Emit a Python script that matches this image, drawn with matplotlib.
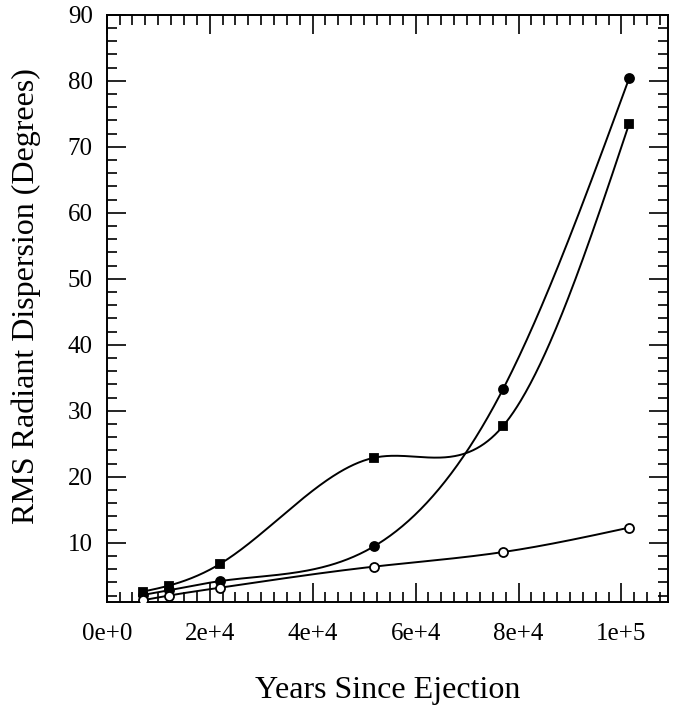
import matplotlib
matplotlib.use("Agg")
import matplotlib.pyplot as plt
import numpy as np
from matplotlib.ticker import MultipleLocator, FixedLocator, FixedFormatter

plt.rcParams['font.family'] = ['Liberation Serif', 'DejaVu Serif']

# years since ejection for each sample
years = [7000, 12000, 22000, 52000, 77000, 101500]

# rms radiant dispersion (degrees) for the three runs
disp_square = [2.6, 3.5, 6.8, 22.9, 27.7, 73.5]
disp_filled = [2.1, 2.8, 4.2, 9.5, 33.3, 80.4]
disp_open = [1.3, 2.0, 3.2, 6.4, 8.6, 12.3]

xtick_vals = [0, 20000, 40000, 60000, 80000, 100000]
xtick_labels = ['0e+0', '2e+4', '4e+4', '6e+4', '8e+4', '1e+5']


def natural_spline(x, y, n=400):
    """Natural cubic spline through (x, y), sampled on n points."""
    x = np.asarray(x, float)
    y = np.asarray(y, float)
    k = len(x)
    h = np.diff(x)
    A = np.zeros((k, k))
    b = np.zeros(k)
    A[0, 0] = A[-1, -1] = 1.0
    for i in range(1, k - 1):
        A[i, i-1] = h[i-1]
        A[i, i] = 2*(h[i-1] + h[i])
        A[i, i+1] = h[i]
        b[i] = 6*((y[i+1]-y[i])/h[i] - (y[i]-y[i-1])/h[i-1])
    M = np.linalg.solve(A, b)
    xs = np.linspace(x[0], x[-1], n)
    idx = np.clip(np.searchsorted(x, xs) - 1, 0, k - 2)
    x0, x1 = x[idx], x[idx+1]
    hh = x1 - x0
    t0, t1 = x1 - xs, xs - x0
    ys = (M[idx]*t0**3 + M[idx+1]*t1**3)/(6*hh) \
        + (y[idx]/hh - M[idx]*hh/6)*t0 + (y[idx+1]/hh - M[idx+1]*hh/6)*t1
    return xs, ys


fig = plt.figure(figsize=(6.8, 7.06), dpi=100)
ax = fig.add_axes([0.157, 0.147, 0.825, 0.832])

for ys, mk, fc, ms in [(disp_square, 's', 'black', 6.0),
                       (disp_filled, 'o', 'black', 6.5),
                       (disp_open, 'o', 'white', 6.5)]:
    sx, sy = natural_spline(years, ys)
    ax.plot(sx, sy, color='black', lw=1.4, zorder=2)
    ax.plot(years, ys, linestyle='none', marker=mk, ms=ms, mfc=fc,
            mec='black', mew=1.3, zorder=3)

ax.set_xlim(0, 109000)
ax.set_ylim(1, 90)

ax.xaxis.set_major_locator(FixedLocator(xtick_vals))
ax.xaxis.set_major_formatter(FixedFormatter(xtick_labels))
ax.xaxis.set_minor_locator(MultipleLocator(2500))
ax.yaxis.set_minor_locator(MultipleLocator(2))
ax.set_yticks([10, 20, 30, 40, 50, 60, 70, 80, 90])

ax.tick_params(which='both', direction='in', top=True, right=True,
               width=1.2, colors='black', labelsize=18)
ax.tick_params(which='major', length=14)
ax.tick_params(which='minor', length=7)
ax.tick_params(axis='x', which='major', pad=15)
ax.tick_params(axis='y', which='major', pad=10)

for sp in ax.spines.values():
    sp.set_linewidth(1.4)

ax.set_xlabel('Years Since Ejection', fontsize=23, labelpad=22)
ax.set_ylabel('RMS Radiant Dispersion (Degrees)', fontsize=23)
ax.yaxis.set_label_coords(-0.118, 0.521)

fig.savefig('out.png', dpi=100)
